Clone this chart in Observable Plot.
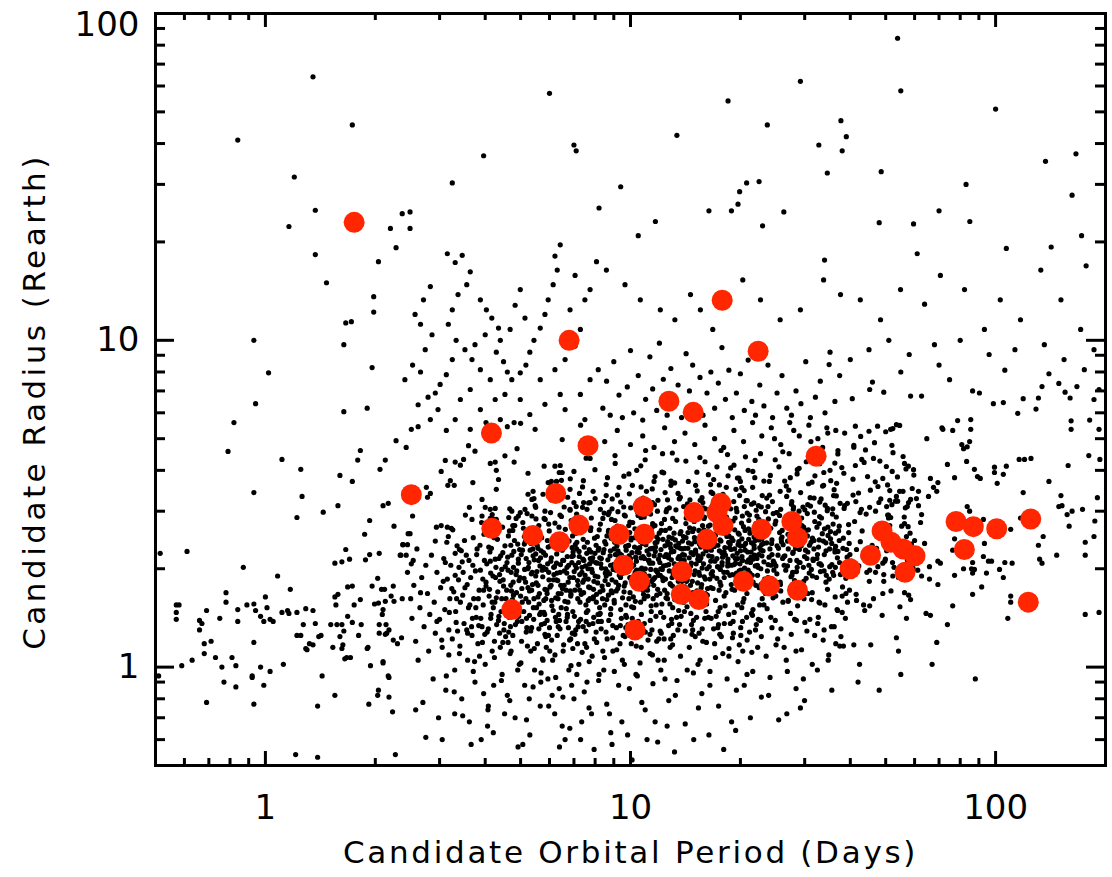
<!DOCTYPE html>
<html><head><meta charset="utf-8">
<script src="https://cdn.jsdelivr.net/npm/d3@7"></script>
<script src="https://cdn.jsdelivr.net/npm/@observablehq/plot@0.6"></script>
<style>
html,body{margin:0;padding:0;background:#fff;} #chart svg{display:block}
g[aria-description="x-title"] text{letter-spacing:2.7px;}
g[aria-description="y-title"] text{letter-spacing:3.5px;}
</style>
</head><body><div id="chart"></div>
<script>
// ---- axis ticks / labels ----
const xMajorTicks = [1, 10, 100];
const xMinorTicks = [0.6,0.7,0.8,0.9,2,3,4,5,6,7,8,9,20,30,40,50,60,70,80,90];
const yMajorTicks = [1, 10, 100];
const yMinorTicks = [0.6,0.7,0.8,0.9,2,3,4,5,6,7,8,9,20,30,40,50,60,70,80,90];
const xTitle = "Candidate Orbital Period (Days)";
const yTitle = "Candidate Radius (Rearth)";

// ---- highlighted candidates (red) ----
const highlightedPeriod = [1.75,2.51,4.16,4.17,4.73,5.40,6.24,6.39,6.79,7.22,7.65,9.30,9.56,10.29,10.57,10.84,10.91,12.74,13.83,13.77,14.85,14.94,15.39,16.19,17.68,17.25,17.91,17.83,20.39,22.37,22.84,24.02,27.66,28.66,28.66,32.24,39.95,45.44,48.87,51.72,55.78,60.17,56.49,77.93,82.11,86.9,100.7,124.8,122.9];
const highlightedRadius = [22.96,3.37,5.20,2.66,1.50,2.53,3.40,2.42,10.0,2.72,4.76,2.55,2.05,1.30,1.83,3.10,2.55,6.51,1.96,1.67,6.02,2.97,1.61,2.46,3.17,2.97,2.71,13.26,1.83,9.26,2.64,1.77,2.79,2.49,1.72,4.42,2.00,2.20,2.61,2.41,2.30,2.19,1.95,2.79,2.29,2.69,2.65,2.84,1.58];

// ---- all candidates (black), [period, radius] ----
const candidatesShortPeriod = [[0.515,2.23],[0.61,2.26],[0.93,3.42],[1.26,3.33],[1.22,2.87],[1.44,2.98],[1.58,3.12],[1.73,3.7],[2.1,3.12],[2.17,3.17],[2.25,2.7],[1.87,2.55],[1.93,2.81],[1.66,2.29],[1.55,2.08],[1.62,2.1],[1.7,2.14],[1.88,2.13],[1.93,2.21],[2.05,2.23],[2.34,2.2],[2.38,2.37],[0.87,2.02],[1.08,1.9],[1.17,1.73],[2.03,1.87],[1.96,1.77],[2.08,1.73],[2.12,1.73],[2.24,1.77],[2.21,1.65],[2.37,1.62],[2.25,1.59],[2.13,1.59],[2.04,1.57],[1.99,1.56],[2.1,1.5],[2.09,1.45],[2.14,1.35],[2.05,1.35],[2.15,1.27],[2.05,1.27],[2.24,1.21],[2.3,1.18],[2.36,1.23],[2.1,1.04],[2.17,0.94],[1.94,1.01],[1.9,1.14],[1.8,1.25],[1.83,1.35],[1.73,1.37],[1.68,1.43],[1.75,1.55],[1.82,1.61],[1.68,1.76],[1.73,1.77],[1.58,1.67],[1.55,1.64],[1.56,1.55],[1.51,1.35],[1.57,1.35],[1.62,1.35],[1.64,1.29],[1.6,1.24],[1.63,1.17],[1.62,1.14],[1.53,1.15],[1.67,1.07],[1.65,1.06],[1.91,1.15],[1.4,1.24],[1.35,1.17],[1.3,1.13],[1.37,1.36],[1.27,1.35],[1.22,1.25],[1.25,1.25],[1.35,1.49],[1.29,1.51],[1.22,1.47],[1.15,1.49],[1.16,1.46],[1.11,1.47],[1.03,1.4],[1.05,1.38],[0.97,1.43],[0.99,1.38],[1.01,1.52],[1.0,1.64],[0.93,1.56],[0.89,1.55],[0.94,1.49],[0.84,1.5],[0.84,1.38],[0.78,1.69],[0.78,1.58],[0.75,1.41],[0.69,1.49],[0.66,1.39],[0.67,1.36],[0.66,1.3],[0.68,1.18],[0.71,1.2],[0.68,1.1],[0.73,1.07],[0.63,1.05],[0.59,1.01],[0.76,1.0],[0.81,1.07],[0.83,1.01],[0.93,1.19],[0.97,1.0],[1.03,0.97],[1.12,1.02],[0.92,0.94],[0.57,1.55],[0.58,1.55],[0.57,1.47],[0.57,1.4],[1.43,0.94],[0.51,0.94],[0.69,0.78],[0.77,0.9],[0.83,0.87],[0.92,0.93],[0.93,0.77],[0.99,0.88],[1.21,0.54],[1.39,0.53],[1.39,0.76],[1.55,0.82],[1.92,0.77],[2.04,0.85],[2.03,0.82],[2.18,0.81],[2.18,0.93],[2.23,0.73],[2.27,0.54],[2.1,1.03],[1.29,1.14],[1.32,1.18],[1.42,1.25],[1.71,1.07],[2.13,1.26],[2.18,1.3]];

const candidatesLargeRadius = [[0.84,41],[1.35,64],[1.73,45.6],[1.2,31.6],[1.16,22.3],[1.37,25],[2.37,24.4],[2.49,24.7],[2.2,22],[2.49,22],[1.02,7.95],[0.94,6.4],[0.93,10],[1.37,18.3],[1.47,15],[1.64,9.7],[1.66,11.3],[1.72,11.4],[1.98,12.2],[1.98,13.6],[1.96,8.25],[1.64,6.05],[1.9,6.2],[2.13,4.3],[2.43,4.7],[1.79,4.3],[0.82,5.6],[0.79,4.57],[2.04,17.4],[2.28,19.2],[1.25,4.03],[1.6,3.86],[1.82,4.6],[2.06,4.03],[2.28,4.93],[1.11,4.32],
[53.9,84],[6.0,57],[55,58],[18.5,54],[29.2,62],[100,51],[23.7,45.6],[13.4,42.4],[37.7,47],[39,42],[7.0,39.6],[7.1,38],[3.96,36.7],[3.25,30.3],[9.4,29.5],[20.8,30.3],[32.8,39.6],[34.6,32.5],[83,30],[137,35.3],[166,37.2],[162,27.8],[22.5,30.6],[19.9,28.5],[19.7,26.1],[23,22.4],[11.7,23.1],[16.4,24.9],[8.2,25.4],[10.5,20.9],[18.9,24.9],[26.3,24.7],[34,17.6],[48,22.9],[59.6,22.7],[61,18.4],[70,24.9],[85,23.1],[107,19.1],[142,19.3],[172,20.9],[177,16.9],[38,38],[48.6,32.8],
[3.15,18.4],[3.31,17.3],[3.46,18.2],[3.64,16.2],[3.56,14.8],[3.37,13.8],[3.25,12.4],[3.17,11.2],[3.33,10.0],[3.52,9.36],[3.25,8.73],[3.13,7.85],[3.01,7.33],[2.92,6.9],[2.79,6.7],[2.97,6.14],[2.62,6.35],[2.83,5.72],[2.51,5.34],[2.71,13.3],[2.83,14.6],[2.57,12.0],[2.66,11.2],[2.86,10.4],[2.74,9.36],[2.53,8.4],[2.41,7.58],[2.66,8.0],[3.88,13.3],[4.03,12.4],[4.17,11.7],[4.35,10.9],[4.4,10.0],[4.29,9.2],[4.49,8.6],[4.6,8.0],[4.73,7.58],[4.99,7.95],[5.17,8.4],[5.3,9.2],[5.44,10.0],[5.66,10.9],[5.83,12.0],[5.95,13.3],[6.14,14.8],[6.3,16.4],[6.21,18.1],[6.42,19.6],[4.99,14.3],[4.83,12.8],[5.14,11.7],[4.68,10.8],[4.0,10.4],[3.75,9.7],[3.68,8.73],[3.88,8.13],[4.13,7.58],[3.64,7.07],[3.42,6.59],[3.88,6.14],[4.26,6.59],[4.53,6.83],[5.66,7.58],[6.21,8.13],[6.62,8.73],[7.05,9.6],[7.29,10.8],[6.83,12.4],[7.5,13.3],[7.75,14.3],[7.05,15.8],[6.42,6.83],[5.83,6.37],[5.3,5.93],[4.99,6.59],[6.62,6.14],[7.29,6.83],[7.75,7.58],[8.16,8.13],[7.5,5.72],[3.64,5.34],[3.31,5.72],[4.4,5.72],[5.48,5.34],
[8.07,17.4],[8.59,16.4],[9.66,14.8],[10.64,13.3],[12.07,12.4],[13.23,11.56],[14.6,13.8],[15.54,12.4],[16.8,10.8],[18.1,13.8],[20.3,15.3],[22.7,13.3],[25.7,11.56],[29.2,12.4],[33.8,15.3],[37.6,13.8],[42.6,13.3],[48.4,11.56],[54.9,14.3],[63.9,12.9],[70.6,15.8],[82.2,14.3],[93.2,10.8],[103,13.3],[117,11.56],[133,16.4],[151,13.3],[171,10.8],[186,9.36],[136,9.7],[154,8.73],[113,9.36],[96,9.05],[80,10],[68,9.7],[58,9.05],[51,10],[45,9.36],[40,8.73],[35,8.43],[140,7.9],[106,8.1],[70,8.4],[55,8.0],[175,8.13],[192,7.07],[181,5.7],[192,5.34],
[8.4,6.2],[8.6,7.5],[8.8,5.9],[9.0,8.6],[9.3,6.8],[9.5,5.8],[9.8,7.2],[10.0,9.3],[10.2,6.0],[10.5,7.8],[10.8,5.7],[11.0,6.6],[11.3,8.9],[11.5,7.1],[11.8,6.1],[12.0,9.8],[12.3,7.6],[12.6,5.9],[12.9,8.2],[13.2,6.4],[13.5,7.3],[13.8,5.8],[14.2,9.1],[14.5,7.0],[14.8,8.4],[15.1,6.3],[15.5,7.7],[15.8,5.9],[16.2,6.9],[16.6,8.0],[17.0,6.2],[17.4,7.4],[17.8,9.5],[18.2,6.6],[18.6,8.1],[19.0,5.8],[19.5,6.9],[20.0,7.9],[20.5,6.1],[21.0,8.7],[21.5,6.5],[22.0,5.9],[22.6,7.3],[23.2,6.3],[23.8,8.4],[24.5,5.8],[25.2,6.9],[26.0,7.8],[26.8,6.2],[27.6,5.9],[28.4,7.0],[29.3,6.4],[30.2,8.6],[31.1,5.8],[32.1,6.7],[33.1,7.5],[34.1,6.0],[35.2,9.2],[36.3,6.5],[37.4,7.8],
[8.5,4.9],[9.2,5.3],[10.0,4.8],[10.8,5.1],[11.6,4.7],[12.4,5.4],[13.2,4.9],[14.1,5.2],[15.0,4.8],[16.0,5.5],[17.0,5.0],[18.0,4.7],[19.2,5.3],[20.4,4.9],[21.6,5.6],[22.9,5.1],[24.3,5.4],[25.8,4.8],[27.3,5.6],[29.0,5.1],[30.8,5.5],[32.6,5.0],[34.5,5.4],[36.5,5.3]];

const candidatesInnerCore = [[2.62,5.44],[3.13,5.3],[4.02,5.6],[4.6,5.44],[4.8,5.6],[5.0,5.57],[6.5,4.97],[7.3,5.5],[3.6,4.76],[3.75,4.58],[3.11,4.29],[3.31,4.24],[3.42,4.15],[3.49,4.32],[3.03,3.97],[4.13,4.2],[4.26,4.24],[4.29,4.0],[4.53,4.43],[4.89,4.66],[4.8,4.24],[5.24,3.92],[5.8,4.12],[6.21,4.12],[6.42,4.14],[6.38,3.94],[6.5,3.94],[7.0,3.97],[7.43,3.72],[7.75,4.35],[3.21,3.72],[3.16,3.6],[3.29,3.6],[3.7,3.67],[4.35,3.75],[2.76,3.55],[2.83,3.4],[2.78,3.31],[2.53,2.9],[2.46,2.56],[2.49,2.56],[2.38,2.37],[2.45,2.37],[2.35,2.2],[2.43,2.2],[2.54,2.12],[2.51,2.07],[2.94,2.68],[3.03,2.71],[3.15,2.68],[3.23,2.66],[3.17,2.51],[2.92,2.43],[3.4,2.29],[3.31,2.23],[3.62,3.08],[3.68,2.83],[3.92,3.26],[4.0,3.08],[4.13,3.04],[4.26,3.06],[4.18,2.93],[3.92,2.9],[4.13,2.85],[4.29,2.83],[4.29,3.5],[5.24,3.38],[5.41,3.45],[5.37,3.26],[5.44,3.28],[5.76,3.38],[5.95,3.67],[6.07,3.7],[6.27,3.7],[6.07,3.57],[6.83,3.5],[7.25,3.4],[7.9,3.45],[8.0,3.28],[7.0,3.19],[7.1,3.1],[6.83,3.04],[7.44,3.19],[7.75,3.19],[7.6,3.04],[5.14,3.04],[5.5,3.08],[4.73,3.0],[4.93,2.9],[4.86,2.85],[4.76,2.71],[4.76,2.62],[5.37,2.9],[5.8,2.85],[5.83,3.0],
[2.45,1.95],[2.5,1.62],[2.52,1.41],[2.55,1.78],[2.58,1.2],[2.6,2.3],[2.62,1.05],[2.65,1.52],[2.68,1.88],[2.7,0.78],[2.72,1.33],[2.75,2.05],[2.78,1.68],[2.8,1.12],[2.82,1.45],[2.85,2.2],[2.88,0.92],[2.9,1.58],[2.92,1.27],[2.95,1.95],[2.98,0.7],[3.0,1.4],[3.02,1.75],[3.05,1.15],[3.08,2.15],[3.1,1.5],[3.12,0.85],[3.15,1.86],[3.18,1.3],[3.2,1.62],[2.58,0.74],[2.75,0.61],[3.05,0.6],[2.66,1.69],[2.95,1.38],
[3.22,2.05],[3.25,1.22],[3.28,1.7],[3.3,0.98],[3.32,1.48],[3.35,2.35],[3.38,1.85],[3.4,1.1],[3.42,1.58],[3.45,0.8],[3.48,1.95],[3.5,1.36],[3.52,1.75],[3.55,2.2],[3.58,1.05],[3.6,1.52],[3.62,0.68],[3.65,1.88],[3.68,1.25],[3.7,2.05],[3.72,1.62],[3.75,0.9],[3.78,1.42],[3.8,2.3],[3.82,1.18],[3.85,1.72],[3.88,1.98],[3.9,0.6],[3.92,1.33],[3.95,1.55],[3.98,2.12],[4.0,1.02],[4.02,1.82],[4.05,1.28],[4.08,0.76],[4.1,1.65],[4.12,2.25],[4.15,1.45],[4.18,1.12],[4.2,1.9],[4.22,0.88],[4.25,1.58],[4.28,2.02],[4.3,1.35],[3.34,1.62],[3.56,1.3],[3.77,1.52],[3.96,1.72],[4.14,1.94],[3.46,2.1],[3.66,0.58],[4.06,0.66],[3.3,0.72],[3.86,1.08],[4.24,1.2],
[4.33,1.7],[4.36,2.15],[4.4,1.15],[4.42,1.48],[4.45,0.95],[4.48,1.85],[4.5,1.3],[4.53,2.35],[4.56,1.62],[4.6,0.82],[4.62,1.98],[4.65,1.42],[4.68,1.1],[4.7,1.78],[4.73,2.2],[4.76,1.25],[4.8,1.55],[4.83,0.7],[4.86,1.92],[4.9,1.38],[4.93,2.08],[4.96,1.02],[5.0,1.65],[5.03,1.2],[5.06,2.28],[5.1,1.48],[5.13,0.88],[5.16,1.82],[5.2,1.32],[5.23,2.0],[5.26,1.58],[5.3,0.62],[5.33,1.12],[5.36,1.72],[5.4,2.3],[5.43,1.4],[5.46,0.98],[5.5,1.9],[5.53,1.52],[5.56,1.18],[5.6,2.12],[5.63,1.68],[5.66,0.76],[5.7,1.35],[5.73,1.98],[5.76,1.05],[5.79,1.6],[4.38,1.92],[4.58,1.72],[4.78,2.02],[4.98,1.88],[5.18,2.15],[5.38,1.95],[5.58,1.78],[4.44,1.62],[4.64,1.28],[4.84,1.45],[5.04,1.38],[5.24,1.75],[5.44,1.62],[5.64,1.45],[4.52,0.72],[4.92,0.57],[5.28,0.8],[5.68,0.9],[4.7,2.36],[5.12,2.38],[5.5,2.22],
[5.82,1.45],[5.85,2.2],[5.88,1.15],[5.9,1.72],[5.94,0.92],[5.97,1.95],[6.0,1.32],[6.04,2.35],[6.08,1.6],[6.12,1.05],[6.15,1.85],[6.2,0.72],[6.23,1.42],[6.27,2.08],[6.3,1.25],[6.34,1.68],[6.38,0.86],[6.42,1.95],[6.46,1.52],[6.5,2.28],[6.54,1.12],[6.58,1.78],[6.62,0.6],[6.66,1.38],[6.7,2.02],[6.74,1.58],[6.78,0.98],[6.82,1.88],[6.86,1.22],[6.9,2.18],[6.95,1.48],[7.0,0.8],[7.04,1.72],[7.08,1.3],[7.12,2.3],[7.17,1.62],[7.22,1.02],[7.26,1.92],[7.3,1.4],[7.35,0.68],[7.4,1.82],[7.45,2.12],[7.5,1.18],[7.55,1.55],[7.6,0.9],[7.65,2.0],[7.7,1.35],[7.75,1.75],[7.8,2.25],[7.85,1.08],[7.9,1.62],[7.95,0.56],[8.0,1.9],[8.05,1.28],[8.1,2.08],[8.15,1.45],[8.2,0.95],[8.25,1.7],[5.86,1.62],[6.06,1.78],[6.26,1.85],[6.46,1.68],[6.66,1.72],[6.86,1.65],[7.06,2.05],[7.26,1.72],[7.46,1.85],[7.66,1.6],[7.86,1.95],[8.06,1.58],[5.96,1.25],[6.36,1.45],[6.76,1.32],[7.16,1.18],[7.56,1.38],[7.96,1.22],[6.16,2.02],[6.56,2.12],[6.96,2.25],[7.36,2.02],[7.76,2.15],[8.16,2.28],[6.1,0.82],[6.9,0.88],[7.7,0.75],[6.5,0.66],[7.3,0.6]];

const candidatesCentralCore = [[8.32,2.15],[8.32,1.38],[8.4,2.85],[8.4,1.72],[8.45,0.98],[8.5,2.42],[8.5,1.55],[8.58,3.35],[8.58,1.9],[8.63,1.22],[8.7,2.6],[8.7,1.66],[8.76,0.72],[8.82,2.05],[8.82,1.45],[8.9,3.05],[8.9,1.85],[8.95,1.12],[9.02,2.3],[9.02,1.6],[9.08,4.2],[9.15,2.02],[9.15,1.32],[9.2,2.7],[9.28,1.78],[9.28,0.88],[9.35,2.22],[9.4,1.5],[9.4,3.2],[9.48,1.95],[9.55,2.55],[9.55,1.25],[9.6,1.7],[9.68,2.9],[9.68,2.12],[9.75,1.42],[9.82,0.62],[9.82,2.35],[9.9,1.62],[9.96,2.78],[9.96,1.88],[10.05,1.18],[10.05,2.48],[10.12,3.6],[10.2,2.05],[10.2,1.52],[10.28,2.65],[10.35,1.82],[10.35,0.95],[10.42,2.25],[10.5,1.38],[10.5,3.1],[10.58,1.98],[10.66,2.42],[10.66,1.58],[10.74,0.78],[10.82,2.18],[10.82,1.72],[10.9,2.88],[10.98,1.28],[10.98,2.0],[11.06,3.45],[11.15,1.65],[11.15,2.55],[11.24,1.9],[11.32,1.1],[11.32,2.3],[11.4,1.48],[11.5,2.75],[11.5,2.08],[11.58,1.78],[11.68,0.68],[11.68,2.4],[11.76,1.55],[11.85,3.0],[11.85,1.95],[11.95,1.22],[12.04,2.2],[12.04,1.68],[12.14,2.62],[12.24,4.5],[12.24,1.88],[12.33,1.42],[12.43,2.35],[12.43,0.92],[12.53,2.05],[12.63,3.25],[12.63,1.62],[12.74,2.5],[12.84,1.8],[12.84,1.15],[12.95,2.25],[13.05,2.85],[13.05,1.52],[13.16,1.98],[13.27,0.82],[13.27,2.45],[13.38,1.72],[13.5,3.4],[13.5,2.15],[13.62,1.35],[13.74,2.6],[13.74,1.9],[13.86,2.3],[13.98,1.58],[13.98,3.1],[8.55,2.0],[8.85,2.48],[9.12,1.82],[9.45,2.2],[9.72,1.55],[10.0,2.15],[10.3,1.95],[10.6,2.32],[10.9,1.62],[11.2,2.12],[11.5,1.85],[11.8,2.5],[12.1,2.0],[12.4,1.72],[12.7,2.2],[13.0,1.88],[13.3,2.35],[13.6,1.95],[8.65,3.8],[9.3,3.55],[9.9,3.9],[10.4,4.0],[11.0,4.6],[11.6,3.7],[12.2,3.95],[12.9,3.6],[13.4,4.3],[8.9,0.58],[10.1,0.52],[11.1,0.6],[12.6,0.66],[13.2,0.55],[9.5,1.05],[10.7,1.15],[11.9,1.05],[13.1,1.25],[8.4,1.12],[9.85,1.35],[11.45,1.3],[12.95,1.4],
[14.05,2.2],[14.05,1.48],[14.18,2.75],[14.3,1.85],[14.3,0.98],[14.42,2.4],[14.55,3.25],[14.55,1.62],[14.68,2.08],[14.8,1.3],[14.8,2.6],[14.95,1.92],[15.08,3.6],[15.08,2.25],[15.2,1.55],[15.35,2.9],[15.35,0.75],[15.48,2.12],[15.62,1.75],[15.62,2.5],[15.78,1.2],[15.9,2.35],[16.05,3.05],[16.05,1.68],[16.2,2.0],[16.35,2.7],[16.35,1.42],[16.5,0.88],[16.65,2.28],[16.8,1.9],[16.8,3.4],[16.95,2.55],[17.1,1.6],[17.25,2.15],[17.25,4.1],[17.42,1.35],[17.58,2.45],[17.58,1.82],[17.75,2.95],[17.9,1.1],[18.05,2.25],[18.05,1.65],[18.22,2.68],[18.4,1.95],[18.4,3.2],[18.58,1.45],[18.75,2.38],[18.92,0.68],[18.92,2.05],[19.1,2.8],[19.28,1.72],[19.28,2.3],[19.45,3.5],[19.65,1.55],[19.65,2.15],[19.85,2.55],[20.05,1.25],[20.05,1.98],[20.25,2.9],[20.45,2.35],[20.45,1.62],[20.65,4.4],[20.85,2.1],[20.85,0.95],[21.05,2.65],[21.25,1.85],[21.45,2.4],[21.45,3.15],[21.65,1.5],[21.85,2.2],[22.05,1.78],[22.05,2.75],[22.3,1.15],[22.5,2.45],[22.75,2.0],[22.95,3.35],[22.95,1.62],[14.2,2.05],[14.6,1.78],[15.0,2.42],[15.4,1.95],[15.8,2.22],[16.2,2.5],[16.6,1.75],[17.0,2.38],[17.4,2.6],[17.8,2.05],[18.2,2.2],[18.6,2.52],[19.0,1.92],[19.4,2.08],[19.8,2.42],[20.2,2.18],[20.6,2.62],[21.0,1.98],[21.4,2.25],[21.8,2.5],[22.2,2.15],[22.6,2.32],[14.4,3.7],[15.2,3.95],[16.0,4.25],[16.9,3.75],[17.7,4.6],[18.5,3.85],[19.2,4.15],[20.0,3.7],[21.0,4.0],[21.9,3.8],[22.7,4.5],[14.9,0.6],[16.4,0.62],[18.0,0.56],[19.5,0.85],[21.3,0.7],[15.5,1.05],[17.0,1.18],[18.6,1.08],[20.3,1.12],[22.0,1.3],[14.7,1.35],[16.1,1.48],[17.6,1.52],[19.1,1.38],[20.8,1.42],[22.4,1.4],[15.9,2.85],[17.3,3.0],[18.8,3.05],[20.5,3.1],[22.2,2.9],[14.3,2.95],[15.7,3.3],[17.1,3.25],[18.3,3.55],[19.9,3.35],[21.6,3.55],
[23.2,2.1],[23.2,1.55],[23.5,2.65],[23.8,1.88],[23.8,3.1],[24.1,2.3],[24.4,1.32],[24.4,2.45],[24.7,1.98],[25.0,2.8],[25.0,1.65],[25.35,2.2],[25.7,3.45],[25.7,1.82],[26.0,2.5],[26.35,1.15],[26.35,2.05],[26.7,2.72],[27.05,1.6],[27.05,2.3],[27.4,3.8],[27.8,1.95],[28.15,2.55],[28.15,1.4],[28.55,2.12],[28.95,3.0],[28.95,1.78],[29.35,2.35],[29.75,0.92],[29.75,2.02],[30.2,2.62],[30.6,1.68],[30.6,2.25],[31.05,3.3],[31.5,1.9],[31.5,2.48],[31.95,1.25],[32.4,2.15],[32.85,2.75],[32.85,1.58],[33.35,2.05],[33.8,3.6],[34.3,1.82],[34.3,2.4],[34.8,1.05],[35.3,2.6],[35.8,1.95],[35.8,3.05],[36.3,2.25],[36.8,1.5],[37.3,2.7],[23.6,2.4],[24.3,2.05],[25.2,2.35],[26.1,2.15],[27.0,2.55],[27.9,2.25],[28.8,2.45],[29.8,2.68],[30.8,2.05],[31.8,2.3],[32.9,2.45],[34.0,2.65],[35.1,2.3],[36.4,2.02],[24.0,3.7],[25.5,4.1],[27.2,4.5],[28.6,3.9],[30.3,4.25],[32.0,3.85],[33.6,4.7],[35.2,4.0],[36.7,3.65],[24.8,5.0],[28.0,5.3],[31.2,4.9],[34.7,5.2],[37.0,4.6],[23.9,0.82],[26.8,0.72],[29.2,0.75],[32.5,0.98],[35.6,0.85],[25.3,1.22],[28.4,1.12],[31.0,1.4],[33.9,1.3],[36.5,1.18],[24.6,2.95],[27.6,3.15],[30.5,2.95],[33.0,3.2],[36.0,3.35]];

const candidatesDenseCore = [[3.07,1.83],[3.14,2.41],[3.19,1.47],[3.26,2.63],[3.31,1.91],[3.36,1.29],[3.44,2.27],[3.47,1.66],[3.53,2.92],[3.57,1.79],[3.61,2.12],[3.69,1.41],[3.71,2.49],[3.76,1.97],[3.83,1.62],[3.87,2.36],[3.91,2.77],[3.94,1.86],[3.99,1.26],[4.04,2.07],[4.07,2.58],[4.11,1.73],[4.16,2.31],[4.21,1.52],[4.23,2.83],[4.27,1.88],[4.32,2.46],[4.35,1.39],[4.41,2.19],[4.46,2.68],[4.49,1.77],[4.54,2.03],[4.57,1.44],[4.63,2.52],[4.67,3.05],[4.71,1.95],[4.75,1.61],[4.79,2.26],[4.82,2.71],[4.87,1.69],[4.91,2.38],[4.95,1.84],[4.99,2.97],[3.11,2.09],[3.24,1.74],[3.39,2.02],[3.51,2.44],[3.63,1.55],[3.79,2.21],[3.97,2.55],[4.13,2.11],[4.29,1.63],[4.44,1.99],[4.61,2.17],[4.77,1.82],[4.93,2.14],[3.84,1.34],[4.38,1.27],[4.69,1.33],[4.97,1.48],
[5.02,2.21],[5.05,1.58],[5.09,2.66],[5.11,1.87],[5.15,2.42],[5.19,1.41],[5.21,2.95],[5.25,2.02],[5.29,1.71],[5.31,2.28],[5.35,1.93],[5.38,2.57],[5.42,1.52],[5.45,2.13],[5.48,3.12],[5.52,1.81],[5.55,2.36],[5.58,1.64],[5.61,2.71],[5.65,2.04],[5.68,1.47],[5.71,2.49],[5.75,1.89],[5.78,2.24],[5.81,1.36],[5.84,2.83],[5.87,1.99],[5.91,1.68],[5.95,2.33],[5.99,2.61],[6.02,1.76],[6.05,2.11],[6.09,1.54],[6.13,2.47],[6.17,1.92],[6.21,2.76],[6.24,1.63],[6.28,2.22],[6.32,1.84],[6.35,2.54],[6.39,1.39],[6.43,2.06],[6.47,2.89],[6.51,1.74],[6.55,2.31],[6.59,1.97],[6.63,2.64],[6.67,1.51],[6.71,2.18],[6.75,1.82],[6.79,2.43],[6.83,3.02],[6.87,1.67],[6.91,2.09],[6.94,2.52],[6.98,1.88],[7.02,1.43],[7.06,2.37],[7.11,2.01],[7.14,2.73],[7.18,1.78],[7.23,2.26],[7.27,1.58],[7.31,2.58],[7.36,1.95],[7.41,2.14],[7.44,1.69],[7.49,2.81],[7.53,2.04],[7.57,1.47],[7.62,2.41],[7.66,1.86],[7.71,2.29],[7.74,1.62],[7.79,2.67],[7.83,1.99],[7.88,2.16],[7.92,1.73],[7.97,2.48],[5.13,1.99],[5.41,2.19],[5.67,2.16],[5.93,2.07],[6.19,2.03],[6.45,2.38],[6.69,1.94],[6.97,2.19],[7.21,2.09],[7.47,2.33],[7.73,2.07],[7.99,2.23],[5.33,1.29],[5.86,1.24],[6.41,1.31],[6.93,1.27],[7.42,1.33],[7.89,1.36],[6.06,3.25],[6.73,3.31],[7.39,3.08],
[8.03,2.09],[8.07,1.67],[8.11,2.51],[8.14,1.89],[8.19,2.31],[8.23,1.52],[8.27,2.74],[8.33,2.01],[8.36,1.77],[8.42,2.24],[8.47,2.96],[8.52,1.84],[8.56,2.38],[8.61,1.61],[8.67,2.13],[8.71,2.62],[8.77,1.93],[8.81,2.27],[8.86,1.71],[8.92,2.49],[8.97,2.06],[9.03,1.57],[9.07,2.81],[9.13,1.98],[9.18,2.35],[9.23,1.74],[9.29,2.17],[9.34,2.66],[9.39,1.88],[9.44,2.42],[9.51,1.63],[9.56,2.09],[9.62,2.92],[9.67,1.81],[9.73,2.28],[9.79,2.54],[9.84,1.96],[9.91,2.19],[9.97,1.69],[10.03,2.45],[10.08,2.03],[10.14,2.77],[10.19,1.85],[10.26,2.33],[10.31,1.59],[10.38,2.11],[10.44,2.58],[10.49,1.92],[10.56,2.24],[10.61,1.74],[10.68,2.87],[10.73,2.01],[10.79,2.39],[10.86,1.67],[10.92,2.15],[10.97,2.63],[11.04,1.89],[11.1,2.27],[11.17,1.78],[11.22,2.51],[11.29,2.08],[11.35,2.94],[11.42,1.83],[11.47,2.31],[11.54,1.62],[11.61,2.19],[11.67,2.71],[11.73,1.98],[11.81,2.41],[11.87,1.73],[11.93,2.14],[11.99,2.57],[12.07,1.91],[12.12,2.29],[12.19,1.56],[12.27,2.46],[12.32,2.04],[12.39,2.83],[12.47,1.86],[12.52,2.21],[12.6,1.68],[12.67,2.37],[12.73,2.06],[12.81,2.66],[12.87,1.79],[12.94,2.13],[13.02,2.48],[13.09,1.93],[13.14,2.26],[13.22,1.61],[13.29,2.79],[13.36,2.02],[13.43,2.33],[13.52,1.83],[13.58,2.18],[13.67,2.56],[13.72,1.72],[13.81,2.09],[13.88,2.43],[13.95,1.97],[8.24,2.16],[8.64,1.96],[9.09,2.21],[9.47,1.93],[9.88,2.36],[10.33,2.17],[10.76,1.97],[11.24,2.12],[11.71,2.33],[12.22,1.99],[12.71,2.16],[13.19,2.07],[13.69,2.31],[8.44,3.21],[9.21,3.36],[10.01,3.07],[10.83,3.29],[11.63,3.14],[12.44,3.42],[13.32,3.03],[8.16,1.38],[8.94,1.34],[9.71,1.44],[10.52,1.31],[11.33,1.39],[12.14,1.27],[12.97,1.36],[13.76,1.43],[9.36,1.18],[11.8,1.2],[10.69,3.56],[12.91,3.71],
[14.03,2.12],[14.11,1.76],[14.19,2.49],[14.27,1.94],[14.36,2.31],[14.44,1.64],[14.52,2.67],[14.61,2.04],[14.69,2.38],[14.77,1.83],[14.86,2.21],[14.94,2.79],[15.03,1.97],[15.11,2.46],[15.21,1.71],[15.29,2.14],[15.39,2.62],[15.47,1.91],[15.57,2.33],[15.66,1.79],[15.76,2.53],[15.85,2.07],[15.94,2.88],[16.03,1.86],[16.13,2.27],[16.23,1.66],[16.32,2.41],[16.43,2.03],[16.52,2.72],[16.63,1.93],[16.72,2.18],[16.83,1.74],[16.93,2.47],[17.03,2.11],[17.14,2.93],[17.24,1.87],[17.35,2.36],[17.46,2.02],[17.57,2.59],[17.68,1.78],[17.79,2.24],[17.91,2.68],[18.02,1.95],[18.13,2.32],[18.25,1.69],[18.37,2.51],[18.48,2.09],[18.61,2.77],[18.72,1.91],[18.84,2.29],[18.97,1.73],[19.09,2.44],[19.22,2.06],[19.34,2.86],[19.47,1.89],[19.59,2.23],[19.73,2.57],[19.86,1.97],[19.99,2.35],[20.12,1.77],[20.26,2.12],[20.39,2.69],[20.53,2.01],[20.67,2.39],[20.81,1.86],[20.95,2.25],[21.09,2.81],[21.24,1.94],[21.38,2.17],[21.52,2.61],[21.67,1.82],[21.82,2.31],[21.97,2.04],[22.13,2.74],[22.28,1.91],[22.44,2.21],[22.59,2.51],[22.76,1.79],[22.91,2.19],[14.48,2.16],[15.07,2.28],[15.71,2.01],[16.38,2.19],[17.08,2.53],[17.82,2.09],[18.57,2.41],[19.37,2.15],[20.19,2.47],[21.06,2.13],[21.96,2.44],[22.87,2.37],[14.32,3.16],[15.52,3.24],[16.74,3.11],[17.92,3.38],[19.18,3.21],[20.48,3.47],[21.77,3.18],[22.82,3.09],[14.63,1.46],[15.97,1.41],[17.39,1.48],[18.77,1.36],[20.17,1.52],[21.58,1.44],[22.69,1.39],[15.41,1.27],[17.73,1.24],[20.04,1.32],[16.57,3.62],[19.63,3.79],[14.21,2.86],[15.88,2.63],[18.33,2.88],[20.88,2.96],[22.47,2.83],[16.08,1.57],
[23.07,2.27],[23.31,1.86],[23.56,2.54],[23.82,2.06],[24.07,1.71],[24.35,2.39],[24.62,2.11],[24.89,2.74],[25.17,1.93],[25.43,2.31],[25.74,1.79],[26.02,2.62],[26.31,2.18],[26.62,1.98],[26.93,2.43],[27.21,2.86],[27.52,1.89],[27.83,2.23],[28.13,2.59],[28.48,1.96],[28.81,2.36],[29.13,2.09],[29.48,2.71],[29.82,1.83],[30.15,2.28],[30.51,2.52],[30.87,1.94],[31.22,2.41],[31.61,2.14],[31.97,2.79],[32.34,1.88],[32.73,2.33],[33.11,2.07],[33.52,2.56],[33.91,1.97],[34.32,2.27],[34.73,2.68],[35.14,2.03],[35.58,2.39],[36.01,1.91],[36.42,2.57],[36.87,2.16],[37.31,2.44],[23.44,2.99],[24.48,3.21],[25.61,2.91],[26.78,3.33],[27.96,3.09],[29.24,3.42],[30.58,3.14],[31.88,2.98],[33.27,3.27],[34.63,3.06],[36.12,3.49],[37.52,3.17],[23.67,1.51],[24.92,1.39],[26.15,1.58],[27.42,1.46],[28.69,1.54],[30.02,1.37],[31.34,1.61],[32.69,1.42],[34.08,1.55],[35.51,1.33],[36.93,1.49],[24.16,3.86],[26.44,3.71],[28.97,4.06],[31.42,3.68],[33.84,3.94],[36.28,4.21],[23.96,2.17],[25.02,2.04],[26.18,2.37],[27.34,2.12],[28.61,2.02],[29.97,2.18],[31.29,1.99],[32.52,2.21],[33.76,2.43],[35.02,1.86],[36.29,2.29],[37.58,1.92],[25.87,2.47],[28.28,2.74],[30.71,2.63],[33.36,2.86],[35.89,2.74],[37.15,2.61],
[38.2,2.31],[38.9,1.87],[39.6,2.58],[40.3,2.11],[41.1,2.79],[41.8,1.96],[42.6,2.42],[43.4,2.17],[44.2,2.94],[45.1,1.83],[45.9,2.36],[46.8,2.63],[47.6,2.03],[48.5,2.51],[49.4,1.92],[50.3,2.27],[51.3,2.71],[52.2,2.09],[53.2,2.46],[54.2,1.88],[55.2,2.33],[56.2,2.88],[57.3,2.13],[58.3,2.57],[59.4,2.01],[38.6,3.12],[40.7,3.36],[42.9,3.04],[45.4,3.48],[47.9,3.19],[50.6,3.61],[53.5,3.33],[56.6,3.07],[59.1,3.52],[39.3,1.58],[41.5,1.67],[43.8,1.49],[46.3,1.62],[48.9,1.44],[51.7,1.71],[54.7,1.53],[57.8,1.66],[38.4,3.92],[41.3,4.14],[44.6,3.83],[48.2,4.27],[52.1,3.97],[55.8,4.41],[59.6,4.02],[39.9,2.21],[42.2,2.04],[44.9,2.19],[47.2,2.31],[49.9,2.14],[52.7,2.02],[55.5,2.19],[58.8,2.38],[43.1,2.61],[50.9,2.86],[57.6,2.69]];

const candidatesDenseCore2 = [[4.02,1.77],[4.09,2.33],[4.18,1.58],[4.26,2.14],[4.31,2.71],[4.39,1.83],[4.47,2.24],[4.55,1.54],[4.59,2.09],[4.66,2.61],[4.72,1.71],[4.81,2.44],[4.88,1.97],[4.97,2.29],[5.04,1.74],[5.12,2.51],[5.17,1.62],[5.27,2.09],[5.34,2.39],[5.39,1.79],[5.47,2.58],[5.54,1.96],[5.62,1.56],[5.69,2.27],[5.77,2.02],[5.83,1.73],[5.92,2.44],[5.98,1.85],[6.07,2.16],[6.14,1.49],[6.22,2.34],[6.29,1.94],[6.37,2.68],[6.44,1.78],[6.52,2.12],[6.61,1.59],[6.68,2.41],[6.77,2.05],[6.84,1.71],[6.92,2.32],[7.01,1.96],[7.09,2.57],[7.16,1.84],[7.24,2.18],[7.33,1.67],[7.42,2.46],[7.51,1.91],[7.59,2.23],[7.68,1.76],[7.77,2.62],[7.84,2.11],[7.94,1.83],[4.14,1.41],[4.51,1.36],[4.94,1.43],[5.36,1.32],[5.79,1.47],[6.26,1.38],[6.72,1.45],[7.19,1.33],[7.64,1.49],[4.23,2.49],[4.64,2.87],[5.07,2.77],[5.51,2.84],[5.97,2.74],[6.41,2.92],[6.88,2.81],[7.37,2.71],[7.81,2.86],[4.47,1.19],[5.22,1.16],[6.01,1.12],[6.81,1.21],[7.58,1.15],[4.78,1.66],[5.58,2.31],[6.33,1.62],[7.13,2.41],[7.91,1.64],
[8.05,2.36],[8.13,1.81],[8.21,2.63],[8.29,2.07],[8.38,1.62],[8.46,2.29],[8.53,1.94],[8.62,2.52],[8.69,1.79],[8.79,2.19],[8.87,2.83],[8.96,1.99],[9.05,2.41],[9.14,1.71],[9.24,2.27],[9.32,1.91],[9.42,2.59],[9.52,2.03],[9.61,1.77],[9.7,2.34],[9.8,2.11],[9.89,2.71],[9.99,1.87],[10.09,2.24],[10.18,1.64],[10.29,2.49],[10.39,1.98],[10.48,2.31],[10.59,1.81],[10.69,2.16],[10.81,2.61],[10.91,1.93],[11.02,2.37],[11.13,1.72],[11.23,2.21],[11.36,1.99],[11.46,2.68],[11.57,1.86],[11.69,2.26],[11.8,1.66],[11.91,2.46],[12.03,2.09],[12.16,2.75],[12.28,1.84],[12.4,2.18],[12.51,1.63],[12.64,2.42],[12.77,1.97],[12.9,2.31],[13.03,1.77],[13.16,2.57],[13.3,2.03],[13.42,1.69],[13.56,2.39],[13.7,2.14],[13.84,1.83],[13.97,2.51],[8.26,1.46],[8.83,1.51],[9.44,1.41],[10.07,1.53],[10.71,1.45],[11.39,1.54],[12.09,1.47],[12.82,1.56],[13.55,1.49],[8.57,1.28],[9.66,1.24],[10.88,1.29],[12.36,1.22],[13.48,1.3],[8.74,2.98],[9.58,3.09],[10.47,2.97],[11.48,3.19],[12.58,3.04],[13.61,3.27],[9.1,2.07],[10.24,1.91],[11.08,2.47],[11.93,1.91],[12.85,2.38],[13.28,1.91],[8.91,1.69],[9.95,2.58],[10.97,1.75],[12.46,2.62],[13.89,2.21],[9.27,2.47],[11.66,1.88],
[14.08,2.31],[14.23,1.83],[14.37,2.58],[14.51,1.97],[14.66,2.24],[14.82,1.69],[14.97,2.49],[15.13,2.07],[15.27,1.81],[15.44,2.38],[15.59,2.16],[15.75,2.71],[15.92,1.89],[16.08,2.29],[16.26,1.74],[16.41,2.54],[16.59,2.11],[16.77,1.96],[16.96,2.34],[17.12,2.81],[17.31,2.03],[17.49,1.72],[17.69,2.43],[17.87,2.17],[18.06,1.88],[18.27,2.56],[18.46,2.04],[18.66,2.32],[18.88,1.79],[19.07,2.19],[19.29,2.63],[19.51,1.94],[19.71,2.37],[19.94,2.07],[20.14,2.76],[20.37,1.84],[20.61,2.28],[20.84,1.68],[21.07,2.46],[21.31,2.09],[21.55,1.91],[21.79,2.36],[22.04,2.62],[22.27,2.05],[22.52,1.75],[22.78,2.28],[14.28,1.53],[15.17,1.42],[16.16,1.56],[17.17,1.43],[18.16,1.54],[19.23,1.47],[20.32,1.58],[21.45,1.46],[22.58,1.55],[14.74,1.26],[16.89,1.31],[19.02,1.23],[21.19,1.28],[14.57,2.96],[15.82,3.07],[17.01,2.91],[18.24,3.14],[19.56,2.99],[20.74,3.23],[22.09,3.02],[15.34,2.19],[16.49,1.86],[17.52,2.27],[18.94,2.48],[19.78,1.77],[21.24,2.57],[22.36,2.02],[14.91,2.65],[16.02,2.44],[17.62,1.99],[18.49,2.14],[20.01,2.27],[21.63,2.14],[22.93,2.47],
[23.14,2.39],[23.71,1.97],[24.22,2.66],[24.77,2.08],[25.34,1.81],[25.91,2.42],[26.47,2.19],[27.11,2.76],[27.68,1.91],[28.33,2.31],[28.92,2.09],[29.58,2.59],[30.27,1.87],[30.93,2.36],[31.67,2.12],[32.41,2.68],[33.14,1.96],[33.95,2.21],[34.76,2.53],[35.61,2.06],[36.45,2.34],[37.37,2.09],[38.28,2.48],[39.21,2.17],[23.41,1.68],[24.57,1.63],[25.79,1.71],[27.03,1.59],[28.43,1.74],[29.87,1.62],[31.46,1.69],[33.02,1.57],[34.64,1.73],[36.36,1.64],[38.08,1.76],[23.86,2.84],[25.11,2.97],[26.57,2.81],[27.92,3.04],[29.42,2.86],[31.12,3.11],[32.96,2.89],[34.59,3.01],[36.61,2.88],[38.47,3.06],[24.41,2.21],[26.91,2.04],[29.01,2.29],[31.81,2.44],[34.38,1.91],[37.01,2.26],[39.57,2.73],[25.61,2.58],[28.14,1.84],[30.43,2.15],[32.83,2.07],[35.31,2.47],[37.82,1.93],[38.91,1.68],[39.72,2.39]];

const candidatesOuterCore = [[3.04,1.21],[3.18,1.09],[3.33,1.37],[3.41,1.16],[3.58,1.27],[3.74,1.04],[3.89,1.41],[3.93,1.19],[4.08,1.31],[4.24,1.07],[4.36,1.43],[4.55,1.24],[4.71,1.12],[4.84,1.35],[5.01,1.03],[5.18,1.28],[5.29,1.44],[5.45,1.14],[5.61,1.31],[5.74,1.06],[5.91,1.39],[6.08,1.21],[6.21,1.09],[6.34,1.33],[6.56,1.17],[6.71,1.42],[6.87,1.01],[7.04,1.26],[7.21,1.38],[7.37,1.11],[7.55,1.29],[7.71,1.04],[7.93,1.42],[8.08,1.19],[8.31,1.31],[8.49,1.07],[8.72,1.39],[8.93,1.23],[9.17,1.13],[9.38,1.34],[9.62,1.02],[9.87,1.27],[10.11,1.41],[10.37,1.16],[10.62,1.03],[10.91,1.36],[11.17,1.21],[11.48,1.09],[11.74,1.43],[12.06,1.29],[12.37,1.05],[12.72,1.34],[13.04,1.17],[13.37,1.42],[13.71,1.08],[14.12,1.29],[14.49,1.15],[14.87,1.39],[15.31,1.02],[15.72,1.31],[16.14,1.19],[16.63,1.41],[17.09,1.07],[17.56,1.26],[18.07,1.36],[18.61,1.14],[19.13,1.27],[19.71,1.04],[20.26,1.38],[20.87,1.21],[21.49,1.11],[22.11,1.35],[22.83,1.24],[23.52,1.08],[24.23,1.42],[25.04,1.17],[25.83,1.31],[26.71,1.05],[27.56,1.26],[28.47,1.39],[29.41,1.13],[30.42,1.29],[31.46,1.02],[32.57,1.36],[33.71,1.21],[34.92,1.09],[36.14,1.33],[37.43,1.16],[38.78,1.41],[3.67,1.33],[4.62,1.19],[5.83,1.26],[6.95,1.14],[8.21,1.45],[9.71,1.32],[11.31,1.26],[12.89,1.22],[15.04,1.24],[17.34,1.32],[19.86,1.17],
[6.04,2.97],[6.31,3.41],[6.58,3.09],[6.84,3.77],[7.12,2.94],[7.39,3.56],[7.68,3.18],[7.99,4.02],[8.27,3.04],[8.58,3.62],[8.91,3.27],[9.24,2.99],[9.59,3.84],[9.93,3.39],[10.31,3.12],[10.67,4.13],[11.08,2.96],[11.47,3.51],[11.89,3.24],[12.33,3.93],[12.77,3.07],[13.21,3.66],[13.69,3.31],[14.18,4.27],[14.71,3.02],[15.23,3.46],[15.78,3.19],[16.34,3.88],[16.92,2.98],[17.52,3.61],[18.17,3.28],[18.81,4.07],[19.48,3.06],[20.17,3.54],[20.89,3.23],[21.63,3.97],[22.41,3.12],[23.19,3.71],[24.03,3.36],[24.91,4.31],[25.79,3.04],[26.71,3.58],[27.66,3.21],[28.64,4.02],[29.67,3.09],[30.74,3.64],[31.83,3.29],[32.97,4.19],[34.14,3.13],[35.36,3.72],[36.62,3.34],[37.91,4.08],[39.27,3.17],[40.68,3.76],[42.13,3.41],[43.64,4.23],[45.19,3.08],[46.81,3.69],[48.47,3.27],[50.21,4.11],[51.99,3.14],[53.85,3.82],[55.77,3.45],[57.76,3.19],[59.71,3.87],[7.56,4.36],[9.07,4.44],[10.97,4.31],[13.02,4.52],[15.49,4.38],[18.44,4.47],[21.94,4.29],[26.13,4.56],[31.07,4.41],[36.98,4.49],[44.02,4.62],[52.36,4.53],[8.69,2.93],[10.49,2.91],[12.52,2.99],[14.91,2.93],[17.77,3.01],[21.17,2.92],[25.21,2.97],[30.02,3.03],[35.73,2.94],[42.54,2.97],[50.63,2.92],[6.47,3.73],[11.67,3.83],[16.63,3.43],[19.82,3.79],[23.61,3.29],[27.14,3.48],[33.58,3.58],[41.42,3.21],[47.62,3.57],[56.83,4.04],
[3.13,0.94],[3.47,0.71],[3.71,0.97],[3.96,0.83],[4.21,0.63],[4.43,0.91],[4.67,0.79],[4.91,0.98],[5.19,0.69],[5.41,0.87],[5.69,0.96],[5.97,0.76],[6.24,0.93],[6.53,0.81],[6.82,0.65],[7.13,0.95],[7.47,0.84],[7.82,0.72],[8.18,0.91],[8.61,0.77],[9.03,0.97],[9.47,0.68],[9.93,0.86],[10.44,0.94],[10.97,0.74],[11.52,0.89],[12.11,0.98],[12.73,0.79],[13.41,0.91],[14.12,0.67],[14.87,0.96],[15.68,0.83],[16.51,0.97],[17.43,0.76],[18.39,0.92],[19.41,0.64],[20.49,0.88],[21.62,0.97],[22.83,0.81],[24.11,0.93],[25.46,0.69],[26.89,0.97],[28.41,0.86],[29.97,0.79],[3.29,0.84],[4.07,0.74],[5.07,0.58],[6.39,0.57],[8.83,0.63],[11.87,0.59]];

const candidatesLongPeriod = [[46,7.45],[40.5,6.63],[45.2,7.07],[49.4,6.94],[58.5,6.75],[62.7,6.75],[74.8,7.58],[86.5,7.0],[90.3,6.9],[98.6,6.4],[105,6.45],[119,6.63],[131,6.66],[134,7.22],[149,7.38],[155,6.94],[160,6.66],[167,7.22],[115,5.98],[129,6.16],[161,5.67],[161,5.34],[186,6.59],[38.6,5.2],[41.3,5.46],[42.7,5.08],[45,5.27],[47.5,5.46],[50,5.25],[51.6,5.34],[52.3,5.37],[53.5,5.52],[54.6,5.49],[46.6,4.86],[40.9,4.77],[40.9,4.71],[52,4.77],[64.8,5.0],[71.3,5.4],[71.7,5.34],[78.7,5.68],[76.3,5.3],[85.5,5.72],[85.5,5.34],[80.8,4.8],[81.7,4.66],[83.6,4.72],[84.9,4.9],[43,4.32],[46.3,4.35],[49.1,3.78],[56.3,4.2],[57.7,4.12],[73.8,4.17],[77.2,3.8],[83.3,4.26],[87.5,4.03],[89.2,3.83],[90.8,3.78],[99.3,4.09],[99.3,3.94],[101,3.65],[105,3.89],[107,4.12],[116,4.32],[120,4.32],[125,4.35],[140,3.7],[158,4.14],[180,4.44],[193,4.32],[119,3.42],[151,3.35],[149,3.1],[152,3.12],[157,2.93],[162,3.0],[173,3.04],[190,3.3],[187,2.8],[159,2.7],[176,2.41],[186,2.51],[147,2.2],[176,2.2],[131,2.36],[135,2.51],[132,2.14],[134,2.08],[117,2.86],[110,2.64],[106,2.09],[111,2.08],[102.5,1.99],[105,1.88],[86.5,2.09],[87.5,1.99],[86.5,1.94],[85.9,2.0],[93.2,2.39],[92.6,2.18],[95.6,2.11],[97.5,2.11],[94.4,1.94],[91.6,1.76],[86.5,1.67],[110,1.65],[110,1.58],[108,1.41],[176,1.45],[192,1.47],[77.2,1.91],[83.6,3.1],[77.2,2.47],[81.7,2.0],[92.6,2.83],[76.3,1.54],[73.8,1.35],[69,1.19],[53.5,1.23],[54.2,1.12],[57,1.41],[58.5,1.61],[56.3,1.69],[49.1,1.68],[43.5,1.55],[45.2,1.54],[41.6,1.6],[38,1.47],[37.7,1.24],[38.3,1.16],[40.9,1.17],[45.5,1.17],[42.4,1.02],[39.8,1.72],[38,1.65],[49.4,1.83],[64.5,1.46],[66.3,1.44],[69.5,1.79],[65.9,1.86],[62.7,1.9],[61.2,1.98],[65.9,2.03],[69.5,2.11],[70.6,2.08],[63.9,2.39],[60,2.44],[62.3,2.77],[62.7,2.93],[61.5,3.12],[60.7,3.28],[58.5,3.26],[57.3,3.1],[56.3,2.75],[55.3,2.7],[50.9,2.92],[51.6,2.87],[50.3,3.1],[46.9,3.0],[54.6,3.45],[53.2,3.22],[53.9,3.22],[51.3,3.24],[51.3,3.47],[61.5,3.45],[65.5,3.33],[67.6,3.55],[69.5,3.67],[69,3.45],[66.3,3.78],[57,2.51],[76.3,2.28],[84.9,3.0],[49.7,2.11],[52.3,1.9],[49.1,2.08],[46.9,1.95],[44.4,1.95],[45.2,1.98],[41.6,2.29],[39.1,2.29],[42,0.9],[48,0.85],[55,0.95],[67,1.02],[88,0.92]];

const candidates = [
  ...candidatesShortPeriod, ...candidatesLargeRadius, ...candidatesInnerCore,
  ...candidatesCentralCore, ...candidatesDenseCore, ...candidatesDenseCore2,
  ...candidatesOuterCore, ...candidatesLongPeriod
].map(([period, radius]) => ({period, radius}));
const highlighted = highlightedPeriod.map((p, i) => ({period: p, radius: highlightedRadius[i]}));

// ---- layout ----
const W = 1112, H = 877;
const mL = 155, mR = 7, mT = 13, mB = 112;
const plotW = W - mL - mR, plotH = H - mT - mB;
const font = "'DejaVu Sans', sans-serif";
const tickStyle = {stroke: "black", strokeWidth: 3};

const chart = Plot.plot({
  width: W, height: H,
  marginLeft: mL, marginRight: mR, marginTop: mT, marginBottom: mB,
  style: {fontFamily: font, background: "white", color: "black", overflow: "visible"},
  x: {type: "log", domain: [0.5, 200], axis: null},
  y: {type: "log", domain: [0.5, 100], axis: null},
  marks: [
    Plot.dot(candidates, {x: "period", y: "radius", r: 2.6, fill: "black", stroke: null}),
    Plot.dot(highlighted, {x: "period", y: "radius", r: 10.5, fill: "#ff2600", stroke: null}),
    Plot.tickX(xMajorTicks, {x: d => d, insetTop: plotH - 14, ...tickStyle}),
    Plot.tickX(xMinorTicks, {x: d => d, insetTop: plotH - 7, ...tickStyle}),
    Plot.tickX(xMajorTicks, {x: d => d, insetBottom: plotH - 14, ...tickStyle}),
    Plot.tickX(xMinorTicks, {x: d => d, insetBottom: plotH - 7, ...tickStyle}),
    Plot.tickY(yMajorTicks, {y: d => d, insetRight: plotW - 19, ...tickStyle}),
    Plot.tickY(yMinorTicks, {y: d => d, insetRight: plotW - 10, ...tickStyle}),
    Plot.tickY(yMajorTicks, {y: d => d, insetLeft: plotW - 19, ...tickStyle}),
    Plot.tickY(yMinorTicks, {y: d => d, insetLeft: plotW - 10, ...tickStyle}),
    Plot.frame({stroke: "black", strokeWidth: 3}),
    Plot.text(xMajorTicks, {x: d => d, text: d => String(d), frameAnchor: "bottom", lineAnchor: "bottom", dy: 53, fontSize: 34, fill: "black"}),
    Plot.text(yMajorTicks.filter(d => d < 100), {y: d => d, text: d => String(d), frameAnchor: "left", textAnchor: "end", lineAnchor: "middle", dx: -16, fontSize: 34, fill: "black"}),
    Plot.text(yMajorTicks.filter(d => d >= 100), {y: d => d, text: d => String(d), frameAnchor: "left", textAnchor: "end", lineAnchor: "middle", dx: -16, dy: 12, fontSize: 34, fill: "black"}),
    Plot.text([xTitle], {text: d => d, frameAnchor: "bottom", textAnchor: "middle", lineAnchor: "bottom", dy: 97, fontSize: 31, fill: "black", ariaDescription: "x-title"}),
    Plot.text([yTitle], {text: d => d, frameAnchor: "left", textAnchor: "middle", lineAnchor: "bottom", rotate: -90, dx: -111, dy: 12, fontSize: 31, fill: "black", ariaDescription: "y-title"})
  ]
});
document.getElementById("chart").appendChild(chart);
</script>
</body></html>
